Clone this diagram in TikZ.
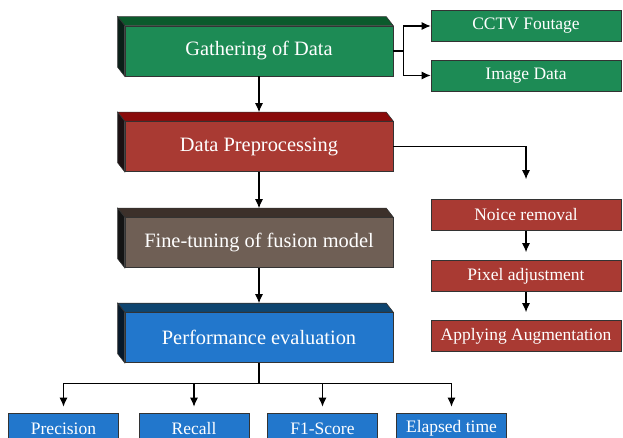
\documentclass[tikz,border=0pt]{standalone}
\usepackage{fontspec}
\setmainfont{Liberation Serif}
\usetikzlibrary{calc,arrows.meta}
\definecolor{grnfront}{HTML}{1D8B55}
\definecolor{grntop}{HTML}{0B5A2C}
\definecolor{grnside}{HTML}{0A1F18}
\definecolor{redfront}{HTML}{A93A33}
\definecolor{redtop}{HTML}{8A0B0B}
\definecolor{redside}{HTML}{1C1012}
\definecolor{brnfront}{HTML}{6F5F55}
\definecolor{brntop}{HTML}{3C302A}
\definecolor{brnside}{HTML}{141414}
\definecolor{bluefront}{HTML}{2277CC}
\definecolor{bluetop}{HTML}{0E4570}
\definecolor{blueside}{HTML}{07192A}

\begin{document}
\begin{tikzpicture}[x=1pt,y=-1pt,
    mainbox/.style={draw=black!80,line width=0.6pt,text=white,minimum width=268pt,minimum height=50pt,inner sep=0pt,font=\fontsize{20.4}{24}\selectfont},
    subbox/.style={draw=black!80,line width=0.6pt,text=white,minimum width=190pt,minimum height=31pt,inner sep=0pt,font=\fontsize{17.5}{21}\selectfont},
    lowbox/.style={subbox,minimum width=110pt,fill=bluefront},
    link/.style={-{Latex[length=9pt,width=8pt]},line width=1.1pt}]
              \useasboundingbox (0,0) rectangle (623,438);
              \node[mainbox,fill=grnfront](gather)at(259,51){Gathering of Data};
              \node[mainbox,fill=redfront](prep)at(259,146.5){Data Preprocessing};
              \node[mainbox,fill=brnfront](tune)at(259,242.5){Fine-tuning of fusion model};
              \node[mainbox,fill=bluefront](perf)at(259,337.5){Performance evaluation};
              \foreach \n/\t/\s in {gather/grntop/grnside,prep/redtop/redside,tune/brntop/brnside,perf/bluetop/blueside}{
                \filldraw[fill=\t,draw=black!80,line width=0.6pt](\n.north west)--++(-7,-9)--($(\n.north east)+(-7,-9)$)--(\n.north east)--cycle;
                \filldraw[fill=\s,draw=black!80,line width=0.6pt](\n.north west)--++(-7,-9)--($(\n.south west)+(-7,-9)$)--(\n.south west)--cycle;
              }
              \node[subbox,fill=grnfront](cctv)at(526,26){CCTV Foutage};
              \node[subbox,fill=grnfront](image)at(526,75.5){Image Data};
              \node[subbox,fill=redfront](noice)at(526,215){Noice removal};
              \node[subbox,fill=redfront](pixel)at(526,276){Pixel adjustment};
              \node[subbox,fill=redfront](augm)at(526,336){Applying Augmentation};
              \node[lowbox](prec)at(63.5,428.5){Precision};
              \node[lowbox](recall)at(194,428.5){Recall};
              \node[lowbox](fscore)at(322.5,428.5){F1-Score};
              \node[lowbox](elapsed)at(451.5,428.5){Elapsed time};
              \draw[link](gather.east)--++(10,0)|-(cctv.west);
              \draw[link](gather.east)--++(10,0)|-(image.west);
              \draw[link,shorten >=9pt](gather)--(prep);
              \draw[link,shorten >=9pt](prep)--(tune);
              \draw[link,shorten >=9pt](tune)--(perf);
              \draw[link,shorten >=20pt](prep.east)-|(noice.north);
              \draw[link,shorten >=8pt](noice)--(pixel);
              \draw[link,shorten >=8pt](pixel)--(augm);
              \draw[line width=1.1pt](perf.south)--++(0,21)coordinate(fork);
              \foreach \n in {prec,recall,fscore,elapsed}
                \draw[link,shorten >=6pt](fork)-|(\n.north);
            \end{tikzpicture}
\end{document}
